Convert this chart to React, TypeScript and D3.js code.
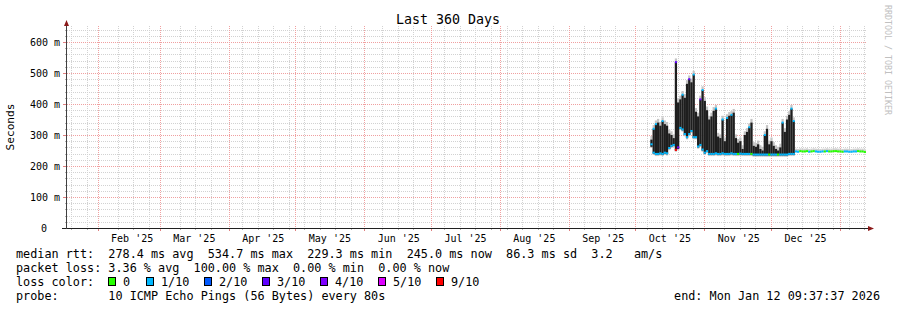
import React from 'react';
import * as d3 from 'd3';

const W = 897;
const H = 310;
const END = new Date(Date.UTC(2026, 0, 12, 9, 37, 37));
// graph window (360 days), offset as rendered by the server's clock
const VIEW_END = new Date(END.getTime() + 19 * 3600000);
const VIEW_START = new Date(VIEW_END.getTime() - 360 * 86400000);
const FIRST_DAY = new Date(Date.UTC(2025, 9, 8, 5, 0, 0));

const yTicks = [0, 100, 200, 300, 400, 500, 600];
const monthLabels = ["Feb '25", "Mar '25", "Apr '25", "May '25", "Jun '25", "Jul '25", "Aug '25", "Sep '25", "Oct '25", "Nov '25", "Dec '25"];

// top of dense smoke (ms), one per day from Oct 8 2025
const hiMs = [
  285, 320, 335, 340, 330, 345, 335, 330, 305, 300,
  290, 535, 405, 415, 430, 420, 465, 480, 470, 495,
  375, 360, 415, 445, 410, 380, 350, 360, 378, 385,
  295, 290, 350, 280, 355, 362, 365, 372, 290, 275,
  280, 255, 300, 310, 325, 340, 265, 262, 270, 255,
  250, 300, 320, 270, 280, 265, 255, 250, 260, 340,
  310, 350, 365, 385, 345,
  247, 246, 248, 247, 247, 248, 246, 247, 248, 247, 246, 246, 247, 247, 248, 247,
  247, 248, 248, 247, 247, 246, 247, 247, 246, 246, 247, 247, 248, 247, 247, 245,
];
// bottom of dense smoke (ms)
const loMs = [
  262, 240, 236, 236, 238, 236, 240, 238, 255, 262,
  265, 250, 255, 320, 315, 300, 290, 300, 310, 290,
  290, 260, 265, 250, 240, 245, 236, 236, 236, 238,
  236, 236, 238, 236, 236, 236, 238, 236, 236, 236,
  237, 236, 236, 236, 236, 236, 234, 234, 234, 234,
  234, 234, 234, 234, 234, 234, 234, 234, 234, 234,
  234, 234, 236, 236, 236,
  247, 246, 248, 247, 247, 248, 246, 247, 248, 247, 246, 246, 247, 247, 248, 247,
  247, 248, 248, 247, 247, 246, 247, 247, 246, 246, 247, 247, 248, 247, 247, 245,
];
// median rtt (ms)
const medMs = [
  270, 243, 239, 239, 241, 239, 243, 241, 258, 265,
  268, 252, 260, 323, 318, 303, 293, 303, 313, 293,
  293, 263, 268, 253, 243, 248, 239, 239, 239, 241,
  239, 239, 241, 239, 239, 239, 241, 239, 239, 239,
  240, 239, 239, 239, 239, 239, 237, 237, 237, 237,
  237, 237, 237, 237, 237, 237, 237, 237, 237, 237,
  237, 237, 239, 239, 239,
  247, 246, 248, 247, 247, 248, 246, 247, 248, 247, 246, 246, 247, 247, 248, 247,
  247, 248, 248, 247, 247, 246, 247, 247, 246, 246, 247, 247, 248, 247, 247, 245,
];
// loss colour index of median (0..6)
const lossIdx = [
  1, 1, 1, 1, 1, 1, 1, 1, 1, 1,
  1, 6, 4, 1, 1, 1, 1, 1, 1, 1,
  1, 1, 1, 1, 1, 1, 1, 1, 1, 1,
  1, 1, 1, 1, 1, 1, 1, 1, 1, 0,
  1, 1, 1, 1, 1, 0, 1, 1, 1, 1,
  1, 1, 1, 0, 1, 1, 1, 0, 1, 1,
  1, 1, 1, 1, 1,
  1, 1, 0, 0, 0, 0, 1, 0, 0, 1, 1, 1, 1, 0, 1, 0,
  0, 0, 0, 0, 0, 0, 1, 1, 1, 1, 1, 1, 0, 0, 0, 0,
];
// loss colour index at the peak (-1 none)
const topLossIdx = [
  -1, 1, 1, -1, -1, 1, -1, -1, -1, -1,
  -1, 3, -1, -1, 1, -1, -1, 3, -1, 1,
  -1, -1, 4, 1, -1, -1, -1, -1, -1, 1,
  -1, -1, 1, -1, 1, -1, 1, -1, -1, -1,
  -1, -1, -1, -1, 1, -1, -1, -1, -1, -1,
  -1, 1, -1, -1, -1, -1, -1, -1, -1, 1,
  -1, -1, -1, 1, 1,
];

const lossColors = ['#26ff00', '#00b8ff', '#0059ff', '#5e00ff', '#7e00ff', '#dd00ff', '#ff0000'];
const lossLabels = ['0', '1/10', '2/10', '3/10', '4/10', '5/10', '9/10'];

const FONT = "'DejaVu Sans Mono', monospace";
const nb = (s: string) => s.replace(/ /g, '\u00a0');

export default function App() {
  const x = d3.scaleUtc().domain([VIEW_START, VIEW_END]).range([67, 867]);
  const y = d3.scaleLinear().domain([0, 650]).range([228, 26.5]);
  const months = d3.utcMonth.range(VIEW_START, VIEW_END);
  const weeks = d3.utcMonday.range(VIEW_START, VIEW_END);
  const minorY = d3.range(0, 651, 20);
  const step = x(d3.utcDay.offset(FIRST_DAY, 1)) - x(FIRST_DAY);
  const px = (v: number) => Math.round(v) + 0.5;

  const monthMids = months
    .map((m) => ({ m, mid: new Date(m.getTime() + 15.5 * 86400000) }))
    .filter((d) => d.mid < VIEW_END);
  const monthXs = months.map((m) => x(m));
  const minorWeeks = weeks.filter((w) => monthXs.every((mx) => Math.abs(mx - x(w)) > 4.5));

  const days = medMs.map((_, i) => d3.utcDay.offset(FIRST_DAY, i));

  const legendRow1 = 'median rtt:  278.4 ms avg  534.7 ms max  229.3 ms min  245.0 ms now  86.3 ms sd  3.2   am/s';
  const legendRow2 = 'packet loss: 3.36 % avg  100.00 % max  0.00 % min  0.00 % now';
  const legendRow4 = 'probe:       10 ICMP Echo Pings (56 Bytes) every 80s';
  const boxX = [108, 146, 204, 262, 320, 378, 436];

  return (
    <svg width={W} height={H} style={{ position: 'absolute', left: 0, top: 0, background: '#fff' }} fontFamily={FONT}>
      <rect x={0} y={0} width={W} height={H} fill="#fff" />
      {/* minor grid */}
      <g stroke="#d2d2d2" strokeWidth={1} strokeDasharray="1 1">
        {minorY.filter((v) => v % 100 !== 0).map((v) => (
          <line key={'hy' + v} x1={67} x2={867} y1={px(y(v))} y2={px(y(v))} />
        ))}
        {minorWeeks.map((w) => (
          <line key={'wk' + w.getTime()} x1={px(x(w))} x2={px(x(w))} y1={26} y2={228} />
        ))}
      </g>
      {/* major grid */}
      <g stroke="#f0a0a0" strokeWidth={1} strokeDasharray="1 1">
        {yTicks.filter((v) => v > 0).map((v) => (
          <line key={'my' + v} x1={67} x2={867} y1={px(y(v))} y2={px(y(v))} />
        ))}
        {months.map((m) => (
          <line key={'mm' + m.getTime()} x1={px(x(m))} x2={px(x(m))} y1={26} y2={228} />
        ))}
      </g>

      {/* smoke fringe */}
      <g>
        {days.map((d, i) => {
          const cx = x(d);
          const top = y(Math.max(hiMs[i], medMs[i]) + (i < 65 ? 12 : 9));
          const bot = y(Math.min(loMs[i], medMs[i]) - (i < 65 ? 4 : 3));
          return <rect key={'s' + i} x={cx - step / 2} y={top} width={step} height={bot - top} fill={i < 65 ? '#c4c4c4' : '#cfcfcf'} />;
        })}
      </g>
      {/* dense smoke */}
      <g>
        {days.map((d, i) => {
          if (hiMs[i] - loMs[i] < 2) return null;
          const cx = x(d);
          return <rect key={'b' + i} x={cx - step / 2} y={y(hiMs[i])} width={step} height={y(loMs[i]) - y(hiMs[i])} fill="#1e1e1e" />;
        })}
      </g>
      {/* median marks coloured by loss */}
      <g>
        {days.map((d, i) => {
          const cx = x(d);
          return <rect key={'m' + i} x={cx - step / 2} y={y(medMs[i]) - 1} width={step} height={2} fill={lossColors[lossIdx[i]]} />;
        })}
        {days.map((d, i) => {
          const t = topLossIdx[i];
          if (t === undefined || t < 0) return null;
          const cx = x(d);
          return <rect key={'t' + i} x={cx - 1} y={y(hiMs[i]) - 1} width={2} height={2} fill={lossColors[t]} />;
        })}
      </g>

      {/* axis ticks */}
      <g shapeRendering="crispEdges">
        {minorY.map((v) => (
          <line key={'ty' + v} x1={v % 100 === 0 ? 63 : 65} x2={67} y1={px(y(v))} y2={px(y(v))} stroke={v % 100 === 0 ? '#e08080' : '#b0b0b0'} />
        ))}
        {minorWeeks.map((w) => (
          <line key={'tw' + w.getTime()} x1={px(x(w))} x2={px(x(w))} y1={228} y2={230} stroke="#b0b0b0" />
        ))}
        {months.map((m) => (
          <line key={'tm' + m.getTime()} x1={px(x(m))} x2={px(x(m))} y1={228} y2={231} stroke="#e08080" />
        ))}
      </g>
      {/* axes */}
      <g shapeRendering="crispEdges">
        <line x1={62} x2={869} y1={228.5} y2={228.5} stroke="#202020" />
        <line x1={66.5} x2={66.5} y1={24} y2={229} stroke="#404040" />
      </g>
      <path d="M64,26 L69,26 L66.5,20 Z" fill="#8b1a1a" />
      <path d="M868,226 L868,231 L874,228.5 Z" fill="#8b1a1a" />

      {/* labels */}
      <text x={448} y={24} fontSize={13.3} textAnchor="middle" fill="#000">Last 360 Days</text>
      <g fontSize={10} fill="#000">
        {yTicks.map((v) => (
          <text key={'yl' + v} x={v === 0 ? 47 : 60} y={y(v) + 3.5} textAnchor="end">{v === 0 ? '0' : nb(`${v} m`)}</text>
        ))}
        {monthMids.map((d, i) => (
          <text key={'ml' + i} x={x(d.mid)} y={242} textAnchor="middle">{nb(monthLabels[i])}</text>
        ))}
      </g>
      <text transform="translate(14,127) rotate(-90)" fontSize={11.2} textAnchor="middle" fill="#000">Seconds</text>
      <text transform="translate(885,60) rotate(90)" fontSize={8.3} textAnchor="middle" fill="#c0c0c0">{nb('RRDTOOL / TOBI OETIKER')}</text>

      <g fontSize={11.8} fill="#000">
        <text x={16} y={258}>{nb(legendRow1)}</text>
        <text x={16} y={272}>{nb(legendRow2)}</text>
        <text x={16} y={286}>{nb('loss color:')}</text>
        {boxX.map((bx, i) => (
          <g key={'lg' + i}>
            <rect x={bx + 0.5} y={277.5} width={7} height={8} fill={lossColors[i]} stroke="#000" strokeWidth={1} shapeRendering="crispEdges" />
            <text x={bx + 15} y={286}>{lossLabels[i]}</text>
          </g>
        ))}
        <text x={16} y={300}>{nb(legendRow4)}</text>
        <text x={880} y={300} textAnchor="end">{nb('end: Mon Jan 12 09:37:37 2026')}</text>
      </g>
    </svg>
  );
}
